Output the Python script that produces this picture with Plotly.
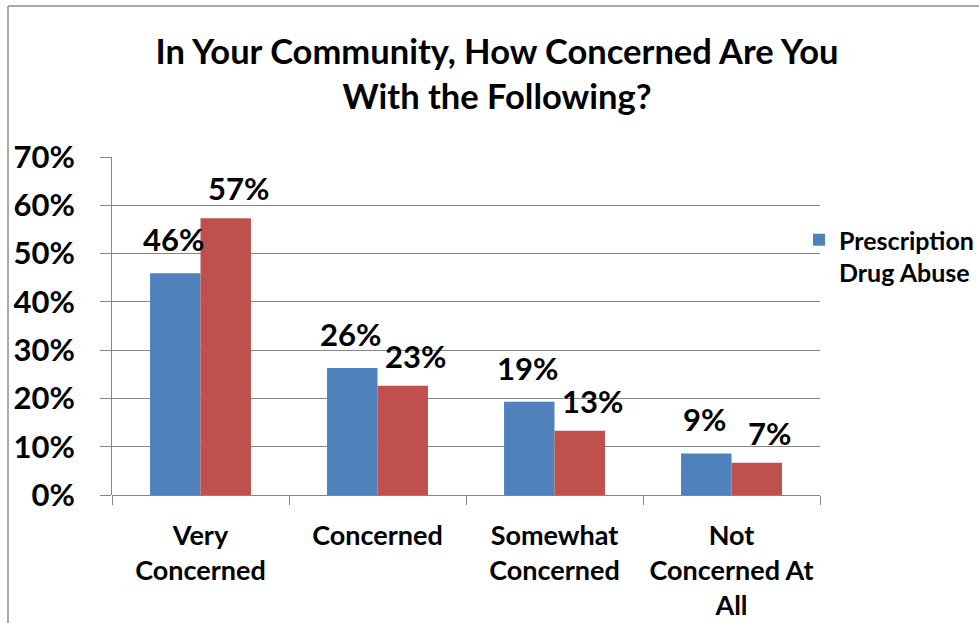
import plotly.graph_objects as go

# Survey responses: share of respondents at each level of concern
categories = ["Very<br>Concerned", "Concerned", "Somewhat<br>Concerned", "Not<br>Concerned At<br>All"]
prescription_drug_abuse = [45.9, 26.3, 19.3, 8.6]
second_series = [57.3, 22.6, 13.3, 6.7]
y_ticks = [0, 10, 20, 30, 40, 50, 60, 70]
y_tick_labels = [f"{v}%" for v in y_ticks]

BLUE = "#4F81BD"
RED = "#C0504D"
GRID = "#868686"
FONT = "Lato"

W, H = 979, 623
L, R, T, B = 112, 159, 157, 128
plot_w = W - L - R
plot_h = H - T - B

fig = go.Figure()
fig.add_trace(go.Bar(
    x=categories, y=prescription_drug_abuse, name="Prescription<br>Drug Abuse",
    marker=dict(color=BLUE, line=dict(width=0)),
))
fig.add_trace(go.Bar(
    x=categories, y=second_series, name="Series 2", showlegend=False,
    marker=dict(color=RED, line=dict(width=0)),
))

# value labels above each bar (blue bars sit left of the group centre, red right)
for vals, dx, dy in ((prescription_drug_abuse, -27, 13), (second_series, 38, 9)):
    for cat, v in zip(categories, vals):
        fig.add_annotation(
            x=cat, y=v, xref="x", yref="y", text=f"{v:.0f}%",
            showarrow=False, yanchor="bottom", xanchor="center",
            xshift=dx, yshift=dy,
            font=dict(family=FONT, size=31, color="black", weight="bold"),
        )

# chart border: left and top edges (the rest runs past the page)
border = dict(color="#8c8c8c", width=1.5)
x_left = (8 - L) / plot_w
y_top = (H - B - 6) / plot_h
fig.add_shape(type="line", xref="paper", yref="paper",
              x0=x_left, x1=x_left, y0=-1.0, y1=y_top, line=border)
fig.add_shape(type="line", xref="paper", yref="paper",
              x0=x_left, x1=2.0, y0=y_top, y1=y_top, line=border)

fig.update_layout(
    width=W, height=H,
    margin=dict(l=L, r=R, t=T, b=B, autoexpand=False),
    paper_bgcolor="white", plot_bgcolor="white",
    font=dict(family=FONT, color="black", size=26),
    barmode="group", bargap=0.43, bargroupgap=0,
    title=dict(
        text="<b>In Your Community, How Concerned Are You<br>With the Following?</b>",
        x=497 / W, xanchor="center", xref="container",
        y=1 - 64 / H, yanchor="top", yref="container",
        font=dict(family=FONT, size=34.5, color="black"),
    ),
    legend=dict(
        x=(799 - L) / plot_w, y=(H - B - 217) / plot_h,
        xanchor="left", yanchor="top", valign="top",
        font=dict(family=FONT, size=25, color="black", weight="bold"),
        bgcolor="rgba(0,0,0,0)", borderwidth=0,
    ),
    xaxis=dict(
        type="category", tickson="boundaries", ticks="outside", ticklen=9,
        tickcolor=GRID, tickwidth=1, showgrid=False, showline=False,
        ticklabelstandoff=22,
        tickfont=dict(family=FONT, size=27, color="black", weight="bold"),
        zeroline=False,
    ),
    yaxis=dict(
        range=[0, 70], tickvals=y_ticks, ticktext=y_tick_labels,
        showgrid=True, gridcolor=GRID, gridwidth=1,
        showline=True, linecolor=GRID, linewidth=1,
        ticks="outside", ticklen=11, tickcolor=GRID, tickwidth=1,
        ticklabelstandoff=19,
        tickfont=dict(family=FONT, size=31, color="black", weight="bold"),
        zeroline=True, zerolinecolor=GRID, zerolinewidth=1,
    ),
)

fig.write_html("out.html")
